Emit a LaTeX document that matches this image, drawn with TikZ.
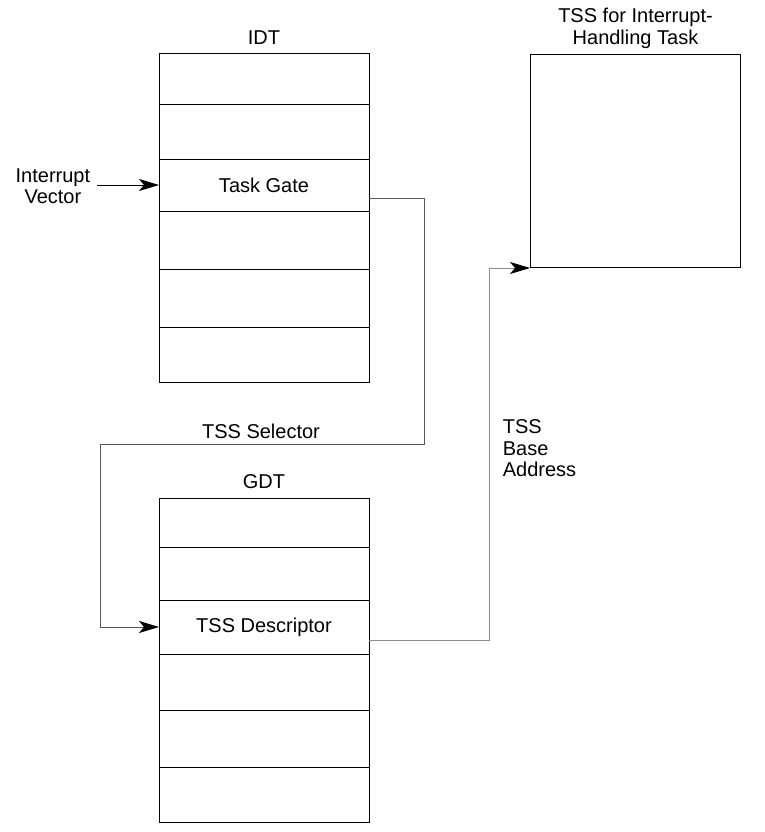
\documentclass[tikz,border=0pt]{standalone}
\usepackage{fontspec}
\setmainfont{Liberation Sans}
\usetikzlibrary{arrows.meta,calc}
\begin{document}
\begin{tikzpicture}[x=1pt,y=-1pt,line width=1pt,
    font=\fontsize{20}{21.5}\selectfont,
    row/.style={draw,inner sep=0pt,outer sep=0pt,minimum width=210pt,anchor=north west},
    tip/.style={-{Stealth[length=20pt,width=12pt,inset=5pt,black]}},
    link/.style={draw=black!65,line width=.9pt}]
\useasboundingbox (0,0) rectangle (764,832);

% IDT rows
\foreach \n/\t/\b/\txt in {1/54/105/,2/105/159/,3/159/211/Task Gate,4/211/269/,5/269/327/,6/327/382/}
    \node[row,minimum height={(\b-\t)*1pt}] (idt\n) at (159,\t) {\txt};
% GDT rows
\foreach \n/\t/\b/\txt in {1/498/547/,2/547/600/,3/600/654/TSS Descriptor,4/654/710/,5/710/767/,6/767/822/}
    \node[row,minimum height={(\b-\t)*1pt}] (gdt\n) at (159,\t) {\txt};
\node[draw,inner sep=0pt,minimum width=210pt,minimum height=213pt,anchor=north west] (tss) at (530,54) {};

\node[above=6pt] (idtlab) at (idt1.north) {IDT};
\node[above=5pt] (gdtlab) at (gdt1.north) {GDT};
\node[above=2pt,align=center,font=\fontsize{20}{22}\selectfont] (tsslab) at (tss.north) {TSS for Interrupt-\\Handling Task};
\node[align=center,anchor=east] (vec) at (94,186) {Interrupt\\Vector};
\node (sel) at (261,431) {TSS Selector};
\node[align=left,anchor=north west] (base) at (499,416) {TSS\\Base\\Address};

\coordinate (selbend) at (100,444);
\draw[tip] (vec.east) ++(3,-1) -- (idt3.west);
\draw[link,tip] ([yshift=-13pt]idt3.east) -- ++(55,0) |- (selbend) |- (gdt3.west);
\draw[link,draw=black!45,tip] ([yshift=-13pt]gdt3.east) -- ++(120,0) |- (tss.south west);

\end{tikzpicture}
\end{document}
